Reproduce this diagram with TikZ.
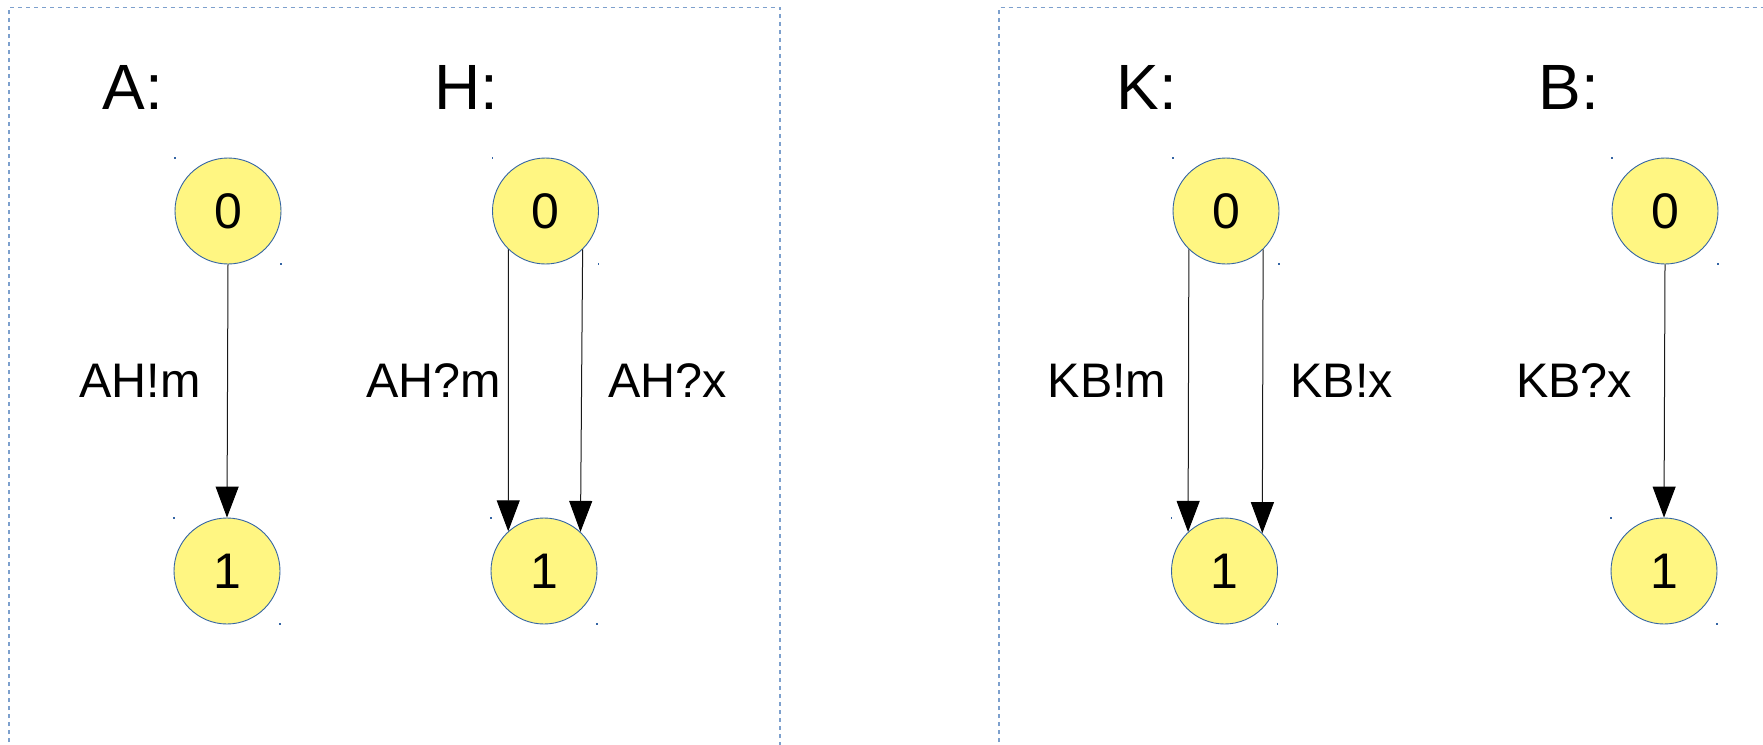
\documentclass[tikz,border=0pt]{standalone}
\usepackage{fontspec}
\setmainfont{Liberation Sans}
\usetikzlibrary{arrows.meta,calc}
\definecolor{nodefill}{RGB}{255,246,130}
\definecolor{nodeedge}{RGB}{52,101,164}
\definecolor{frameblue}{RGB}{125,160,205}
\tikzset{
  state/.style={circle, draw=nodeedge, line width=0.9pt, fill=nodefill,
    minimum size=106pt, inner sep=0pt, font=\fontsize{50}{50}\selectfont},
  title/.style={anchor=base, inner sep=0pt, font=\fontsize{64}{64}\selectfont},
  elabel/.style={anchor=base, inner sep=0pt, font=\fontsize{48.5}{48.5}\selectfont},
  trans/.style={draw=black!90, line width=1pt, -{Triangle[width=23pt,length=31pt,color=black]}},
  frame/.style={draw=frameblue, line width=1.2pt, dash pattern=on 4pt off 4pt},
  gdot/.style={fill=nodeedge, inner sep=0pt, minimum size=1.5pt, draw=none},
}
\begin{document}
\begin{tikzpicture}[x=1pt,y=1pt]
\useasboundingbox (0,0) rectangle (1763,-744);
\clip (0,0) rectangle (1763,-744);
\fill[white] (0,0) rectangle (1763,-744);
% frames
\draw[frame] (9,-790) -- (9,-7.5) -- (780,-7.5) -- (780,-790);
\draw[frame] (999,-790) -- (999,-7.5) -- (1800,-7.5);
% titles
\node[title] (tA) at (133,-109) {A:};
\node[title] (tH) at (466,-109) {H:};
\node[title] (tK) at (1147,-109) {K:};
\node[title] (tB) at (1569,-109) {B:};
% states
\node[state] (A0) at (228,-211) {0};
\node[state] (A1) at (227,-571) {1};
\node[state] (H0) at (545.5,-211) {0};
\node[state] (H1) at (544,-571) {1};
\node[state] (K0) at (1226,-211) {0};
\node[state] (K1) at (1224.5,-571) {1};
\node[state] (B0) at (1665,-211) {0};
\node[state] (B1) at (1664,-571) {1};
% tiny corner dots at the bounding-box corners of the states
\foreach \n in {A0,A1,H0,H1,K0,K1,B0,B1}{
  \node[gdot] at ($(\n.center)+(-53,53)$) {};
  \node[gdot] at ($(\n.center)+(53,-53)$) {};
}
% transitions
\draw[trans] (A0.south) -- (A1.north);
\draw[trans] (H0.-134) -- (H1.132);
\draw[trans] (H0.-46) -- (H1.47);
\draw[trans] (K0.-134) -- (K1.133);
\draw[trans] (K0.-46) -- (K1.45);
\draw[trans] (B0.south) -- (B1.north);
% edge labels
\node[elabel] (lA) at (140,-397) {AH!m};
\node[elabel] (lH1) at (434,-397) {AH?m};
\node[elabel] (lH2) at (667.5,-397) {AH?x};
\node[elabel] (lK1) at (1107,-397) {KB!m};
\node[elabel] (lK2) at (1341.5,-397) {KB!x};
\node[elabel] (lB) at (1574,-397) {KB?x};
\end{tikzpicture}
\end{document}
